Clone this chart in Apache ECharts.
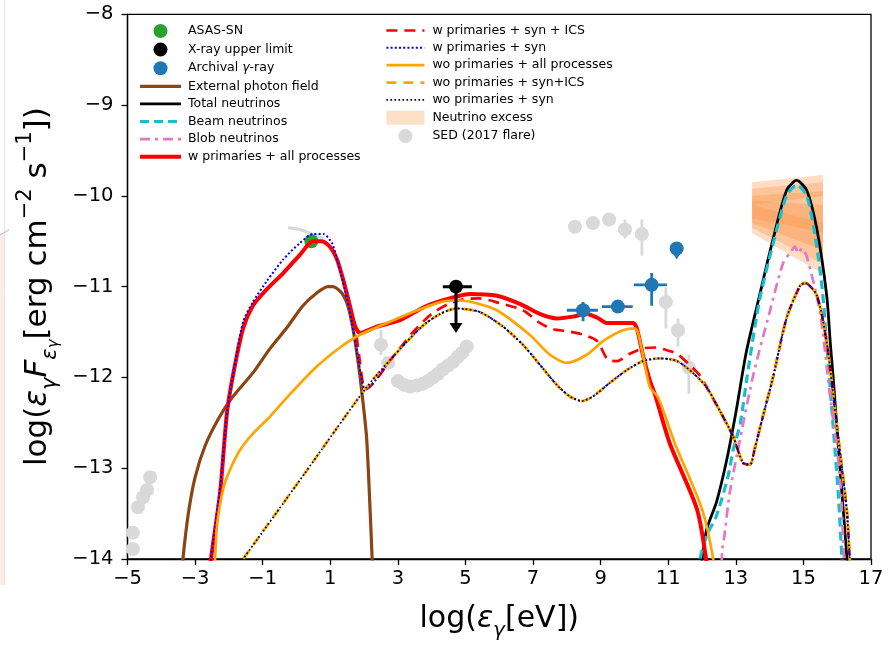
<!DOCTYPE html>
<html>
<head>
<meta charset="utf-8">
<script src="https://cdn.jsdelivr.net/npm/echarts@6/dist/echarts.min.js"></script>
<style>
  html, body { margin: 0; padding: 0; background: #fff; }
  #chart { width: 895px; height: 646px; }
</style>
</head>
<body>
<div id="chart"></div>
<script>
// x = log10(photon energy / eV), y = log10(E F_E / erg cm^-2 s^-1)

// ---- model curves ----
const extPhoton = [[-3.42,-14.3],[-3.36,-14.0],[-3.2,-13.5],[-3.0,-13.1],[-2.7,-12.75],[-2.3,-12.45],[-1.9,-12.22],
  [-1.29,-11.95],[-0.78,-11.68],[-0.28,-11.45],[0.19,-11.21],[0.6,-11.07],[0.93,-11.0],[1.08,-11.0],[1.34,-11.07],
  [1.52,-11.21],[1.67,-11.46],[1.82,-11.82],[1.94,-12.18],[2.08,-12.69],[2.24,-14.0],[2.27,-14.3]];

const totalNu = [[11.92,-14.3],[12.0,-14.0],[12.14,-13.67],[12.43,-13.37],[12.73,-12.91],[13.01,-12.37],[13.31,-11.72],
  [13.7,-11.1],[14.1,-10.48],[14.5,-9.94],[14.8,-9.83],[15.1,-9.94],[15.4,-10.37],[15.69,-11.1],[15.8,-11.64],
  [15.88,-12.0],[16.1,-13.09],[16.29,-14.0],[16.33,-14.3]];

const beamNu = [[11.88,-14.3],[11.94,-14.0],[12.14,-13.74],[12.43,-13.52],[12.77,-13.09],[12.92,-12.8],[13.13,-12.51],
  [13.33,-12.0],[13.7,-11.15],[14.1,-10.53],[14.5,-10.0],[14.8,-9.88],[15.1,-10.0],[15.35,-10.45],[15.55,-11.0],
  [15.69,-11.64],[15.88,-12.54],[16.03,-13.27],[16.14,-14.0],[16.18,-14.3]];

const blobNu = [[12.55,-14.3],[12.6,-13.9],[12.66,-13.75],[12.82,-13.27],[13.1,-12.73],[13.5,-12.0],[14.0,-11.28],
  [14.4,-10.74],[14.62,-10.62],[14.75,-10.56],[14.85,-10.63],[14.95,-10.58],[15.1,-10.67],[15.49,-11.28],
  [15.78,-12.18],[16.08,-13.09],[16.2,-14.0],[16.23,-14.3]];

// with primaries: rise and synchrotron peak shared by "all processes" and "syn + ICS"
const wPrimRise = [[-2.6,-14.3],[-2.53,-14.0],[-2.26,-13.27],[-2.06,-12.4],[-1.88,-11.98],[-1.58,-11.46],[-1.29,-11.21],
  [-0.88,-11.03],[-0.39,-10.85],[0.1,-10.65],[0.49,-10.5],[0.75,-10.5],[0.99,-10.56],[1.2,-10.7],[1.38,-10.92],
  [1.58,-11.21],[1.73,-11.43]];

const wAllHigh = [[1.88,-11.51],[2.38,-11.44],[3.06,-11.37],[3.86,-11.21],[4.63,-11.12],[5.13,-11.08],[5.93,-11.1],
  [6.61,-11.19],[7.2,-11.3],[7.7,-11.35],[8.18,-11.33],[8.59,-11.3],[8.89,-11.34],[9.18,-11.4],[9.57,-11.4],
  [9.96,-11.4],[10.07,-11.46],[10.25,-11.75],[10.46,-12.04],[10.61,-12.19],[11.05,-12.73],[11.85,-13.45],
  [12.12,-14.0],[12.18,-14.3]];

const wIcsHigh = [[1.85,-11.75],[1.97,-12.08],[2.03,-12.13],[2.86,-11.77],[3.5,-11.48],[4.0,-11.3],[4.5,-11.19],
  [4.93,-11.14],[5.4,-11.13],[6.0,-11.18],[6.7,-11.26],[7.2,-11.4],[7.6,-11.47],[8.0,-11.49],[8.5,-11.53],
  [8.9,-11.6],[9.2,-11.8],[9.48,-11.82],[9.86,-11.74],[10.25,-11.68],[10.66,-11.67],[10.96,-11.7],[11.26,-11.74],
  [11.6,-11.85],[11.94,-11.98]];

const wSynRise = [[-2.6,-14.3],[-2.53,-14.0],[-2.26,-13.2],[-2.06,-12.4],[-1.91,-12.04],[-1.58,-11.39],[-1.29,-11.17],
  [-0.88,-10.94],[-0.39,-10.7],[0.1,-10.52],[0.49,-10.42],[0.79,-10.42],[1.05,-10.52],[1.23,-10.74],[1.43,-11.03],
  [1.64,-11.39],[1.79,-11.72],[1.94,-12.04]];

// without primaries: straight low-energy rise
const woSynRise = [[-2.16,-14.3],[-1.58,-14.0],[0.2,-13.08]];

// synchrotron hump of the cascade, shared by the "syn" curves
const synHump = [[2.03,-12.13],[2.86,-11.77],[3.71,-11.44],[4.25,-11.3],[4.75,-11.24],[5.43,-11.28],[6.11,-11.44],
  [6.7,-11.64],[7.2,-11.86],[7.7,-12.08],[8.09,-12.21],[8.44,-12.26],[8.77,-12.21],[9.27,-12.06],[9.77,-11.92],
  [10.25,-11.82],[10.76,-11.79],[11.26,-11.82],[11.73,-11.95]];

// high-energy tail shared by the syn and syn + ICS curves
const cascadeTail = [[12.14,-12.11],[12.53,-12.37],[12.92,-12.65],[13.21,-12.94],[13.42,-12.96],[13.55,-12.8],
  [13.8,-12.43],[14.1,-12.0],[14.5,-11.35],[14.9,-10.99],[15.05,-10.96],[15.4,-11.1],[15.7,-11.64],[15.99,-12.54],
  [16.28,-13.45],[16.37,-14.0],[16.42,-14.3]];

const woAll = [[-2.47,-14.3],[-2.41,-14.0],[-2.35,-13.63],[-2.17,-13.23],[-1.97,-13.02],[-1.67,-12.8],[-1.29,-12.62],
  [-0.78,-12.43],[-0.28,-12.22],[0.6,-11.88],[1.29,-11.67],[1.88,-11.53],[2.68,-11.4],[3.45,-11.28],[4.25,-11.17],
  [4.75,-11.15],[5.3,-11.18],[5.93,-11.26],[6.9,-11.53],[7.5,-11.75],[8.0,-11.84],[8.59,-11.75],[9.07,-11.6],
  [9.66,-11.48],[10.01,-11.46],[10.1,-11.5],[10.25,-11.75],[10.46,-12.11],[10.7,-12.22],[11.2,-12.73],
  [12.0,-13.45],[12.33,-14.0],[12.38,-14.3]];

// ---- observations ----
const asassn = [[0.44,-10.5]];
// [x, y, xLow, xHigh, yTip]
const xrayLimit = [[4.72,-11.0,4.33,5.19,-11.51]];
// [x, y, xLow, xHigh, yLow, yHigh]
const archival = [[8.48,-11.26,8.0,8.92,-11.38,-11.17],[9.51,-11.22,9.04,9.95,-11.22,-11.22],
  [10.51,-10.98,9.98,10.96,-11.21,-10.85]];
const archivalLimit = [[11.25,-10.58]];

const sedFlare = [[-4.84,-13.89],[-4.84,-13.71],[-4.69,-13.43],[-4.54,-13.32],[-4.42,-13.24],[-4.33,-13.1],
  [2.5,-11.64],[2.71,-11.84],[3.0,-12.04],[3.18,-12.08],[3.36,-12.1],[3.56,-12.09],[3.74,-12.07],[3.89,-12.04],
  [4.04,-12.0],[4.19,-11.96],[4.33,-11.91],[4.48,-11.87],[4.63,-11.83],[4.78,-11.77],[4.9,-11.73],[5.04,-11.66],
  [8.24,-10.34],[8.77,-10.3],[9.25,-10.26],[9.72,-10.37],[10.22,-10.42],[10.93,-11.17],[11.29,-11.48],[11.61,-11.89]];
// [x, y, yLow, yHigh]
const sedFlareErr = [[2.5,-11.64,-11.75,-11.48],[9.72,-10.37,-10.47,-10.26],[10.22,-10.42,-10.66,-10.26],
  [10.93,-11.17,-11.46,-11.01],[11.29,-11.48,-11.66,-11.35],[11.61,-11.89,-12.18,-11.75]];
const sedOptical = [[-0.25,-10.35],[0.1,-10.37],[0.45,-10.42],[0.8,-10.47]];

// neutrino excess bands: [x0, x1, yLow0, yHigh0, yLow1, yHigh1]
const nuExcess = [[13.48,15.58,-10.1,-9.85,-10.0,-9.77],[13.48,15.58,-10.25,-9.92,-10.4,-9.85],
  [13.48,15.58,-10.3,-10.0,-10.6,-9.95],[13.48,15.58,-10.35,-10.05,-10.75,-10.1],
  [13.48,15.58,-10.41,-10.1,-10.86,-10.3]];

// ---- styling helpers ----
const SANS = '"DejaVu Sans", sans-serif';
const GREY = '#d9d9d9';
// legend entries of curves: hide the marker, keep the line handle
const lineEntry = name => ({ name: name, itemStyle: { opacity: 0 } });

function curve(name, data, color, width, type, z) {
  return {
    name: name, type: 'line', data: data, symbol: 'none', smooth: 0.25, clip: true, z: z || 3,
    lineStyle: { color: color, width: width, type: type || 'solid', cap: 'butt' },
    itemStyle: { color: color },
    emphasis: { disabled: true }, silent: true
  };
}

function markers(name, data, color, z) {
  return { name: name, type: 'scatter', data: data, symbolSize: 14, z: z, silent: true,
    itemStyle: { color: color, opacity: 1 }, emphasis: { disabled: true } };
}

function errorBars(data, color, width, z) {
  return {
    type: 'custom', data: data, z: z, silent: true, clip: true,
    encode: { x: [0, 2, 3], y: [1, 4, 5] },
    renderItem: function (params, api) {
      const x = api.value(0), y = api.value(1);
      const a = api.coord([api.value(2), y]), b = api.coord([api.value(3), y]);
      const c = api.coord([x, api.value(4)]), d = api.coord([x, api.value(5)]);
      const st = { stroke: color, lineWidth: width };
      return { type: 'group', children: [
        { type: 'line', shape: { x1: a[0], y1: a[1], x2: b[0], y2: b[1] }, style: st },
        { type: 'line', shape: { x1: c[0], y1: c[1], x2: d[0], y2: d[1] }, style: st }
      ]};
    }
  };
}

const fmtTick = v => (v < 0 ? '\u2212' + Math.abs(v) : String(v));

const chart = echarts.init(document.getElementById('chart'), null, { renderer: 'canvas' });

const legendText = { fontFamily: SANS, fontSize: 12.5, color: '#000' };

const option = {
  backgroundColor: '#fff',
  animation: false,
  grid: { left: 127.5, right: 24, top: 14.3, bottom: 78.3, show: true, borderColor: '#000', borderWidth: 1.3, backgroundColor: 'transparent' },
  xAxis: {
    type: 'value', min: -5, max: 17, interval: 2,
    name: '{t|log(}{ti|ε}{s|γ}{t|[eV])}', nameLocation: 'middle', nameGap: 38,
    nameTextStyle: { rich: {
      t: { fontFamily: SANS, fontSize: 30, color: '#000', lineHeight: 44, verticalAlign: 'middle' },
      ti: { fontFamily: SANS, fontSize: 30, color: '#000', fontStyle: 'italic', lineHeight: 44, verticalAlign: 'middle' },
      s: { fontFamily: SANS, fontSize: 20, color: '#000', fontStyle: 'italic', lineHeight: 26, verticalAlign: 'bottom' }
    }},
    splitLine: { show: false },
    axisLine: { onZero: false, lineStyle: { color: '#000', width: 1.3 } },
    axisTick: { inside: false, length: 6, lineStyle: { color: '#000', width: 1.3 } },
    axisLabel: { formatter: fmtTick, fontFamily: SANS, fontSize: 19.5, color: '#000', margin: 10 }
  },
  yAxis: {
    type: 'value', min: -14, max: -8, interval: 1,
    name: '{t|log(}{ti|ε}{s|γ}{ti|F}{s|ε}{ss|γ}{t|[erg cm}{p|\u22122}{t| s}{p|\u22121}{t|])}',
    nameLocation: 'middle', nameRotate: 90, nameGap: 64,
    nameTextStyle: { rich: {
      t: { fontFamily: SANS, fontSize: 31, color: '#000', lineHeight: 46, verticalAlign: 'middle' },
      ti: { fontFamily: SANS, fontSize: 31, color: '#000', fontStyle: 'italic', lineHeight: 46, verticalAlign: 'middle' },
      s: { fontFamily: SANS, fontSize: 21, color: '#000', fontStyle: 'italic', lineHeight: 26, verticalAlign: 'bottom' },
      ss: { fontFamily: SANS, fontSize: 15, color: '#000', fontStyle: 'italic', lineHeight: 18, verticalAlign: 'bottom' },
      p: { fontFamily: SANS, fontSize: 21, color: '#000', lineHeight: 24, verticalAlign: 'top' }
    }},
    splitLine: { show: false },
    axisLine: { onZero: false, lineStyle: { color: '#000', width: 1.3 } },
    axisTick: { inside: false, length: 6, lineStyle: { color: '#000', width: 1.3 } },
    axisLabel: { formatter: fmtTick, fontFamily: SANS, fontSize: 19.5, color: '#000', margin: 14 }
  },
  legend: [
    {
      orient: 'vertical', left: 138, top: 24, padding: 0, itemWidth: 41, itemHeight: 14, itemGap: 4.6,
      selectedMode: false,
      lineStyle: { width: 'inherit', type: 'inherit' },
      textStyle: Object.assign({ padding: [0, 0, 0, 2],
        rich: { i: Object.assign({ fontStyle: 'italic' }, legendText) } }, legendText),
      formatter: n => n.replace('γ', '{i|γ}'),
      data: ['ASAS-SN', 'X-ray upper limit', 'Archival γ-ray',
        lineEntry('External photon field'), lineEntry('Total neutrinos'), lineEntry('Beam neutrinos'),
        lineEntry('Blob neutrinos'), lineEntry('w primaries + all processes')]
    },
    {
      orient: 'vertical', left: 385, top: 24, padding: 0, itemWidth: 38, itemHeight: 14, itemGap: 4.35,
      selectedMode: false,
      lineStyle: { width: 'inherit', type: 'inherit' },
      textStyle: Object.assign({ padding: [0, 0, 0, 3] }, legendText),
      data: [lineEntry('w primaries + syn + ICS'), lineEntry('w primaries + syn'),
        lineEntry('wo primaries + all processes'), lineEntry('wo primaries + syn+ICS'), lineEntry('wo primaries + syn'),
        { name: 'Neutrino excess', icon: 'rect' }, 'SED (2017 flare)']
    }
  ],
  graphic: [
    { type: 'rect', left: 0, top: 235, shape: { width: 4, height: 350 }, style: { fill: '#fdeee4' }, silent: true },
    { type: 'line', shape: { x1: 4.5, y1: 0, x2: 4.5, y2: 585 }, style: { stroke: '#e6e6e6', lineWidth: 1 }, silent: true },
    { type: 'line', shape: { x1: 0, y1: 235, x2: 9, y2: 230 }, style: { stroke: '#b8b8b8', lineWidth: 1 }, silent: true }
  ],
  series: [
    // flare SED in the background
    errorBars(sedFlareErr.map(r => [r[0], r[1], r[0], r[0], r[2], r[3]]), GREY, 2.8, 1),
    markers('SED (2017 flare)', sedFlare, GREY, 1),
    curve('', sedOptical, GREY, 3, 'solid', 1),
    // neutrino excess bands
    { name: 'Neutrino excess', type: 'custom', data: nuExcess, z: 1, silent: true,
      itemStyle: { color: '#fde0c8' },
      encode: { x: [0, 1], y: [2, 3, 4, 5] },
      renderItem: function (params, api) {
        const x0 = api.value(0), x1 = api.value(1);
        const pts = [api.coord([x0, api.value(2)]), api.coord([x0, api.value(3)]),
                     api.coord([x1, api.value(5)]), api.coord([x1, api.value(4)])];
        return { type: 'polygon', shape: { points: pts }, style: { fill: 'rgba(253,141,60,0.3)' } };
      }
    },
    markers('ASAS-SN', asassn, '#2ca02c', 2),
    // model curves
    curve('External photon field', extPhoton, '#8b4513', 3.2),
    curve('Total neutrinos', totalNu, '#000000', 2.8),
    curve('Beam neutrinos', beamNu, '#17becf', 3.2, [9, 5]),
    curve('Blob neutrinos', blobNu, '#e377c2', 2.7, [10, 5, 3, 5]),
    curve('w primaries + all processes', wPrimRise.concat(wAllHigh), '#ff0000', 4),
    curve('w primaries + syn + ICS', wPrimRise.concat(wIcsHigh, cascadeTail), '#ff0000', 2.7, [11, 7]),
    curve('w primaries + syn', wSynRise.concat(synHump, cascadeTail), '#0000ff', 2, [2, 2.2]),
    curve('wo primaries + all processes', woAll, '#ffa500', 2.7),
    curve('wo primaries + syn+ICS', woSynRise.concat(synHump, cascadeTail), '#ffa500', 2.8, [10, 7]),
    curve('wo primaries + syn', woSynRise.concat(synHump, cascadeTail), '#000000', 1.7, [1.7, 2.3]),
    // measurements on top
    errorBars(archival, '#1f77b4', 2.8, 5),
    markers('Archival γ-ray', archival.map(r => [r[0], r[1]]).concat(archivalLimit), '#1f77b4', 5),
    { type: 'scatter', data: archivalLimit, symbol: 'triangle', symbolRotate: 180, symbolSize: [12, 10],
      symbolOffset: [0, 6], z: 5, silent: true, itemStyle: { color: '#1f77b4', opacity: 1 }, emphasis: { disabled: true } },
    errorBars(xrayLimit.map(r => [r[0], r[1], r[2], r[3], r[1], r[1]]), '#000000', 3, 6),
    { type: 'custom', data: xrayLimit.map(r => [r[0], r[1], r[4]]), z: 6, silent: true,
      encode: { x: 0, y: [1, 2] },
      renderItem: function (params, api) {
        const p0 = api.coord([api.value(0), api.value(1)]);
        const tip = api.coord([api.value(0), api.value(2)]);
        const head = 10, half = 6.5;
        return { type: 'group', children: [
          { type: 'line', shape: { x1: p0[0], y1: p0[1], x2: tip[0], y2: tip[1] - head + 1 },
            style: { stroke: '#000', lineWidth: 3 } },
          { type: 'polygon', shape: { points: [[tip[0] - half, tip[1] - head], [tip[0] + half, tip[1] - head], [tip[0], tip[1]]] },
            style: { fill: '#000' } }
        ]};
      }
    },
    markers('X-ray upper limit', xrayLimit.map(r => [r[0], r[1]]), '#000000', 6)
  ]
};

chart.setOption(option);
</script>
</body>
</html>
